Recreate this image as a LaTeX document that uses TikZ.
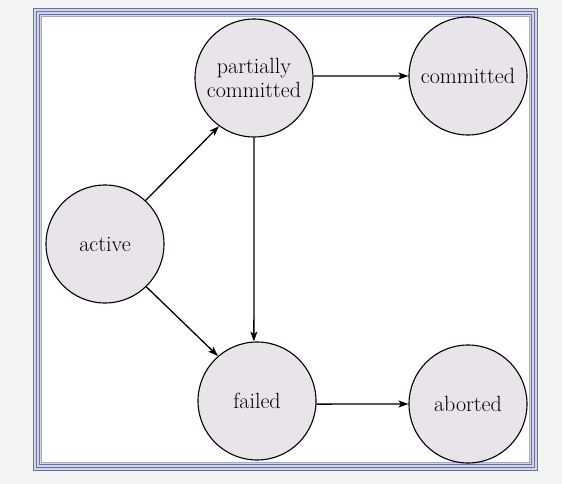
\documentclass[tikz,border=0pt]{standalone}
\usetikzlibrary{arrows.meta}
\definecolor{pagebg}{HTML}{F4F4F4}
\definecolor{framedark}{HTML}{6A70A0}
\definecolor{framelight}{HTML}{D2D5E6}
\definecolor{statefill}{HTML}{E8E4EA}
\tikzset{
  state/.style={circle, draw=black, line width=1.1pt, fill=statefill,
    minimum size=118pt, inner sep=0pt, align=center,
    font=\fontsize{22}{24}\selectfont},
  trans/.style={line width=1.3pt, -{Stealth[length=10pt,width=7pt,inset=2.5pt]}},
}
\begin{document}
\begin{tikzpicture}[x=1pt,y=-1pt]
  % page and frame
  \fill[pagebg] (0,0) rectangle (562,484);
  \useasboundingbox (0,0) rectangle (562,484);
  \fill[framelight] (33,8) rectangle (538,471);
  \fill[white] (42,17) rectangle (529,462);
  \draw[framedark, line width=1pt] (33.5,8.5) rectangle (537.5,470.5);
  \draw[framedark, line width=1pt] (36.5,11.5) rectangle (534.5,467.5);
  \draw[framedark, line width=1pt] (39.5,14.5) rectangle (531.5,464.5);
  \draw[framedark!60, line width=0.8pt] (41.6,16.6) rectangle (529.4,462.4);

  % states
  \node[state] (active) at (105,244) {active};
  \node[state] (pc) at (254,78) {partially\\committed};
  \node[state] (committed) at (468,76) {committed};
  \node[state] (failed) at (257,401) {failed};
  \node[state] (aborted) at (468,404) {aborted};

  % transitions
  \draw[trans] (active.47) -- (pc.234);
  \draw[trans] (active.-46) -- (failed.131);
  \draw[trans] (pc.south) -- (failed.93);
  \draw[trans] (pc.2) -- (committed.west);
  \draw[trans] (failed.-3) -- (aborted.west);
\end{tikzpicture}
\end{document}
